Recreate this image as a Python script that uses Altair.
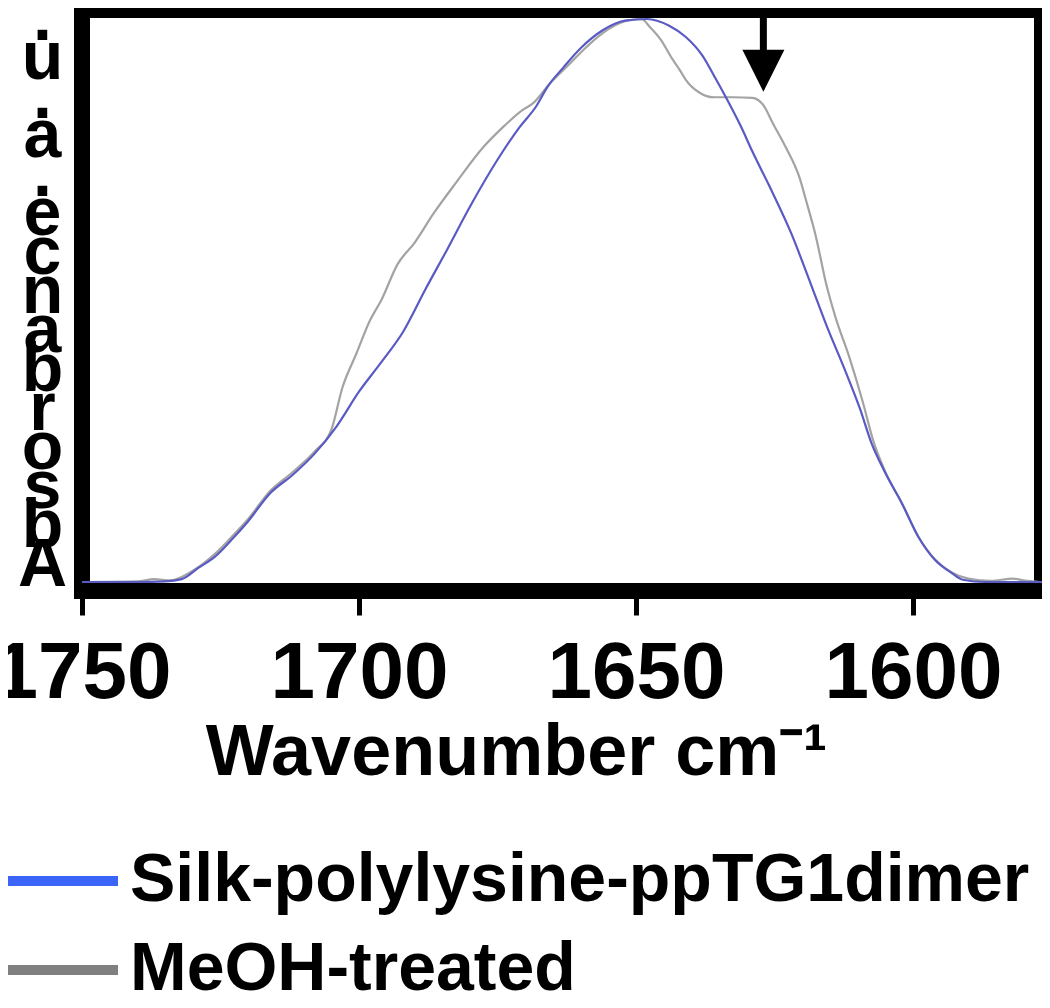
import altair as alt
import pandas as pd

# ---------------- data ----------------
series_names = ["Silk-polylysine-ppTG1dimer", "MeOH-treated"]
legend_colors = ["#3b64f8", "#808080"]
line_colors = ["#5a5ac4", "#a3a3a3"]

wn_silk = [1750, 1740, 1735, 1732, 1729, 1726, 1723, 1720, 1716, 1712, 1708, 1704,
           1700, 1696, 1692, 1688, 1684, 1680, 1675, 1671, 1668, 1666, 1663, 1660,
           1656, 1652, 1648, 1644, 1641, 1638, 1635.5, 1633.5, 1631, 1629, 1626,
           1622, 1618.5, 1615.5, 1612.5, 1609.5, 1607.5, 1605, 1602, 1599, 1596,
           1593, 1591, 1587, 1576]
ab_silk = [0, 0, 0.001, 0.005, 0.025, 0.045, 0.075, 0.108, 0.158, 0.19, 0.228, 0.277,
           0.338, 0.39, 0.445, 0.52, 0.592, 0.666, 0.75, 0.808, 0.845, 0.879, 0.915, 0.948,
           0.98, 0.997, 1.0, 0.988, 0.968, 0.935, 0.892, 0.856, 0.808, 0.765, 0.705,
           0.62, 0.531, 0.453, 0.382, 0.306, 0.247, 0.194, 0.14, 0.08, 0.039,
           0.016, 0.004, 0, 0]

wn_meoh = [1750, 1740, 1737, 1734, 1730, 1726, 1723, 1720, 1716, 1712, 1708, 1705,
           1703, 1700.5, 1698, 1696, 1693, 1690, 1686.5, 1682.5, 1677.5, 1674, 1670.5,
           1668.5, 1665.5, 1662, 1659.5, 1656, 1652, 1649, 1647.5, 1645.5, 1643.5, 1642,
           1641, 1638.5, 1636, 1632.5, 1629, 1627, 1625.3, 1623, 1620.5, 1619.3, 1617.5,
           1615.7, 1614, 1611.5, 1609, 1607.2, 1605, 1602, 1599, 1596, 1593, 1590, 1586,
           1582, 1580, 1577]
ab_meoh = [0, 0.001, 0.005, 0.003, 0.02, 0.05, 0.08, 0.112, 0.162, 0.195, 0.232, 0.27,
           0.345, 0.405, 0.465, 0.5, 0.565, 0.602, 0.655, 0.709, 0.773, 0.808, 0.838,
           0.851, 0.886, 0.92, 0.945, 0.975, 0.996, 1.0, 0.986, 0.963, 0.93, 0.908,
           0.892, 0.869, 0.861, 0.861, 0.86, 0.847, 0.815, 0.773, 0.719, 0.678, 0.613,
           0.531, 0.471, 0.4, 0.318, 0.252, 0.196, 0.14, 0.08, 0.04, 0.017, 0.006, 0.002,
           0.006, 0.003, 0]

x_ticks = [1750, 1700, 1650, 1600]
x_domain = [1750, 1576.7]
y_domain = [-0.016, 1.016]

# arrow marking the shoulder of the treated sample
arrow_wn = [1627]
arrow_top = [1.016]
arrow_tail = [0.94]
arrow_head = [0.908]

x_title = "Wavenumber cm\u207b\u00b9"
y_title_chars = [".", "u", ".", "a", ".", "e", "c", "n", "a", "b", "r", "o", "s", "b", "A"]

FONT = "Liberation Sans, Arial, Helvetica, sans-serif"

# ---------------- tables ----------------
df_silk = pd.DataFrame({"wn": wn_silk, "ab": ab_silk})
df_meoh = pd.DataFrame({"wn": wn_meoh, "ab": ab_meoh})
df_arrow = pd.DataFrame({"wn": arrow_wn, "ab": arrow_top, "ab2": arrow_tail, "abh": arrow_head})
# off-domain rows only used to build the legend
df_leg = pd.DataFrame({
    "wn": [1800, 1801, 1800, 1801],
    "ab": [0.5, 0.5, 0.5, 0.5],
    "series": [series_names[0], series_names[0], series_names[1], series_names[1]],
})

x_axis = alt.Axis(
    values=x_ticks, format="d", grid=False, domain=False,
    ticks=True, tickSize=24, tickWidth=5, tickColor="black",
    labelFont=FONT, labelFontSize=80, labelFontWeight="bold", labelColor="black",
    labelPadding=19, labelFlush=False, labelOverlap=False, labelBound=False,
    labelLimit=1000,
    title=x_title, titleFont=FONT, titleFontSize=72, titleFontWeight="bold",
    titleColor="black", titleX=434, titleY=183, titleBaseline="alphabetic",
    titleAlign="center", titleLimit=2000,
)
y_axis = alt.Axis(
    title=y_title_chars, titleAngle=0, titleAlign="center", titleBaseline="alphabetic",
    titleX=-40, titleY=29, titleFont=FONT, titleFontSize=68, titleFontWeight="bold",
    titleLineHeight=39, titleColor="black",
    labels=False, ticks=False, domain=False, grid=False,
)

xs = alt.Scale(domain=x_domain, nice=False, zero=False)
ys = alt.Scale(domain=y_domain, nice=False, zero=False)

def X():
    return alt.X("wn:Q", scale=xs, axis=x_axis)

def Y(field="ab"):
    return alt.Y(f"{field}:Q", scale=ys, axis=y_axis)

meoh = alt.Chart(df_meoh).mark_line(
    color=line_colors[1], strokeWidth=2.2, interpolate="monotone"
).encode(x=X(), y=Y())

silk = alt.Chart(df_silk).mark_line(
    color=line_colors[0], strokeWidth=2.2, interpolate="monotone"
).encode(x=X(), y=Y())

shaft = alt.Chart(df_arrow).mark_rule(color="black", strokeWidth=7).encode(
    x=X(), y=Y("ab"), y2="ab2:Q"
)
head = alt.Chart(df_arrow).mark_point(
    shape="M-1,-1L1,-1L0,1Z", size=1764, filled=True, color="black", opacity=1
).encode(x=X(), y=Y("abh"))

legend_layer = alt.Chart(df_leg).mark_line(clip=True, strokeWidth=10).encode(
    x=X(), y=Y(),
    color=alt.Color(
        "series:N",
        scale=alt.Scale(domain=series_names, range=legend_colors),
        legend=alt.Legend(
            title=None, orient="none", legendX=-68, legendY=837, direction="vertical",
            symbolType="M-5,0L5,0", symbolSize=784, symbolStrokeWidth=10,
            labelFont=FONT, labelFontSize=68, labelFontWeight="bold",
            labelColor="black", labelOffset=48, labelLimit=2000, rowPadding=21,
            padding=0, labelBaseline="middle",
        ),
    ),
)

# total SVG width = 74 + 960 + 0 = 1034 (the page's content width), so it is not rescaled
chart = alt.layer(meoh, silk, shaft, head, legend_layer).properties(
    width=960, height=581,
    autosize=alt.AutoSizeParams(type="none"),
    padding={"left": 74, "top": 2, "right": 0, "bottom": 405},
    background="white",
).configure_view(stroke="black", strokeWidth=16)

chart.save("out.html", embed_options={"renderer": "svg", "actions": False})
